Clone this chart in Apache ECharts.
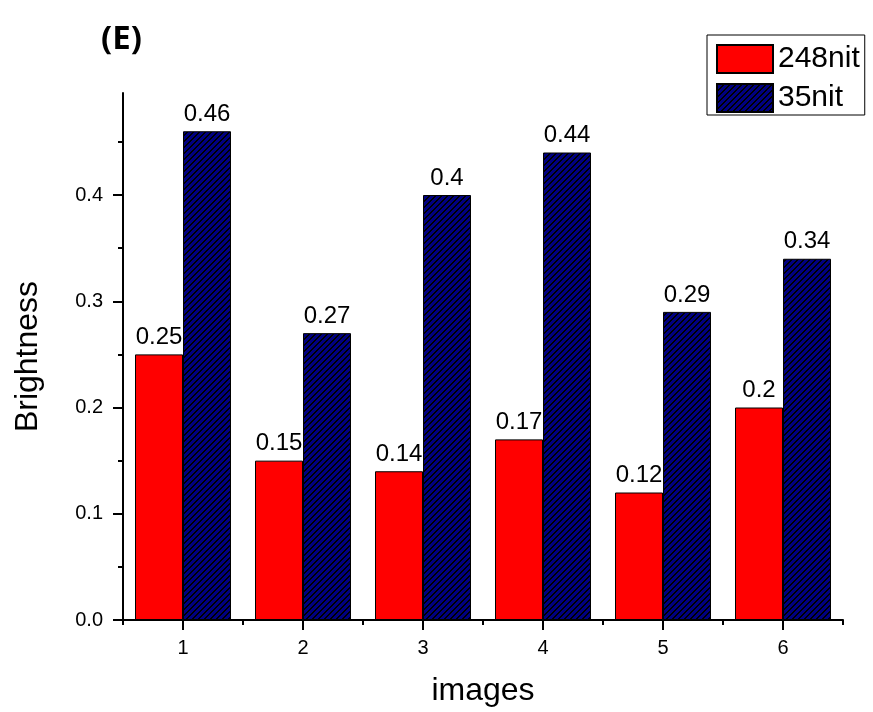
<!DOCTYPE html>
<html>
<head>
<meta charset="utf-8">
<script src="https://cdn.jsdelivr.net/npm/echarts@6/dist/echarts.min.js"></script>
<style>
  html, body { margin: 0; padding: 0; background: #fff; }
  #chart { width: 873px; height: 712px; }
</style>
</head>
<body>
<div id="chart"></div>
<script>
const categories = ['1', '2', '3', '4', '5', '6'];
const nit248 = [0.25, 0.15, 0.14, 0.17, 0.12, 0.2];
const nit35 = [0.46, 0.27, 0.40, 0.44, 0.29, 0.34];
const yTicks = [0, 0.1, 0.2, 0.3, 0.4];

const fontFamily = '"Liberation Sans", Arial, sans-serif';
const tickLine = { color: '#000', width: 2 };

// hatch tile for the 35nit bars (navy with black "/" lines), drawn pixel by pixel so it stays crisp
const makeHatch = () => {
  const n = 6;
  const c = document.createElement('canvas');
  c.width = n;
  c.height = n;
  const ctx = c.getContext('2d');
  ctx.fillStyle = '#000080';
  ctx.fillRect(0, 0, n, n);
  ctx.fillStyle = '#000000';
  for (let x = 0; x < n; x++) {
    for (let y = 0; y < n; y++) {
      const k = (x + y) % n;
      if (k === 0 || k === 1) ctx.fillRect(x, y, 1, 1);
    }
  }
  return c;
};

const chart = echarts.init(document.getElementById('chart'));

const labelStyle = {
  show: true,
  position: 'top',
  distance: 5,
  color: '#000',
  fontSize: 24,
  fontFamily: fontFamily,
  formatter: p => String(p.value)
};

chart.setOption({
  animation: false,
  backgroundColor: '#fff',
  title: {
    text: '(E)',
    left: 96,
    top: 18,
    textStyle: { fontFamily: '"Open Sans", Lato, sans-serif', fontWeight: 'bold', fontSize: 33, color: '#000' }
  },
  legend: {
    orient: 'vertical',
    left: 707,
    top: 35,
    padding: [9, 5, 2, 9],
    itemGap: 9,
    itemWidth: 56,
    itemHeight: 28,
    icon: 'rect',
    borderColor: '#000',
    borderWidth: 1,
    textStyle: { fontSize: 30, fontFamily: fontFamily, color: '#000' },
    data: ['248nit', '35nit']
  },
  grid: { left: 123, right: 30, top: 93, bottom: 90 },
  xAxis: [
    {
      type: 'category',
      data: categories,
      name: 'images',
      nameLocation: 'middle',
      nameGap: 55,
      nameTextStyle: { fontSize: 32, fontFamily: fontFamily, color: '#000' },
      axisLine: { show: true, lineStyle: { color: '#000', width: 2 } },
      axisTick: { show: true, inside: false, alignWithLabel: true, length: 10, lineStyle: tickLine },
      axisLabel: { fontSize: 20, fontFamily: fontFamily, color: '#000', margin: 18 },
      splitLine: { show: false }
    },
    {
      // short ticks at the category boundaries
      type: 'category',
      data: categories,
      position: 'bottom',
      axisLine: { show: false },
      axisTick: { show: true, inside: false, interval: 0, length: 5, lineStyle: tickLine },
      axisLabel: { show: false },
      splitLine: { show: false }
    }
  ],
  yAxis: {
    type: 'value',
    min: 0,
    max: 0.496,
    interval: 0.1,
    name: 'Brightness',
    nameLocation: 'middle',
    nameGap: 79,
    nameTextStyle: { fontSize: 32, fontFamily: fontFamily, color: '#000' },
    axisLine: { show: true, lineStyle: { color: '#000', width: 2 } },
    axisTick: { show: true, inside: false, length: 10, customValues: yTicks, lineStyle: tickLine },
    minorTick: { show: true, splitNumber: 2, length: 5, lineStyle: tickLine },
    axisLabel: {
      fontSize: 20,
      fontFamily: fontFamily,
      color: '#000',
      margin: 20,
      customValues: yTicks,
      formatter: v => v.toFixed(1)
    },
    splitLine: { show: false }
  },
  series: [
    {
      name: '248nit',
      type: 'bar',
      xAxisIndex: 0,
      data: nit248,
      barWidth: '40%',
      barGap: '0%',
      z: 2,
      itemStyle: { color: '#ff0000', borderColor: '#000', borderWidth: 1 },
      label: labelStyle
    },
    {
      name: '35nit',
      type: 'bar',
      xAxisIndex: 0,
      data: nit35,
      barWidth: '40%',
      barGap: '0%',
      z: 3,
      itemStyle: { color: { image: makeHatch(), repeat: 'repeat' }, borderColor: '#000', borderWidth: 1 },
      label: labelStyle
    }
  ]
});

window.addEventListener('resize', () => chart.resize());
</script>
</body>
</html>
